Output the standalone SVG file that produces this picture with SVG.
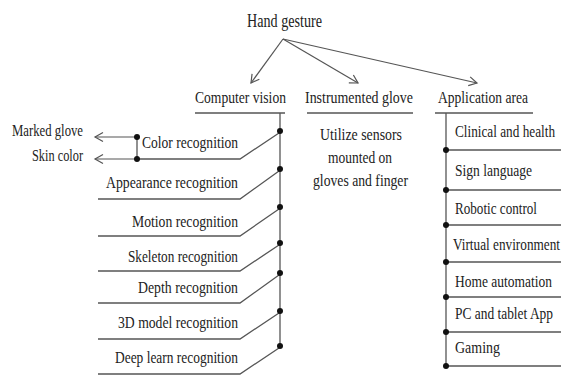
<svg xmlns="http://www.w3.org/2000/svg" width="563" height="378" viewBox="0 0 563 378">
<style>
text{font-family:"Liberation Serif","DejaVu Serif",serif;font-size:17px;fill:#222}
.ln{stroke:#555;stroke-width:1.3;fill:none}
.arr{stroke:#555;stroke-width:1.2;fill:none;marker-end:url(#ah)}
.dot{fill:#111}
</style>
<defs>
<marker id="ah" viewBox="-10 -6 12 12" refX="0" refY="0" markerWidth="12" markerHeight="12" markerUnits="userSpaceOnUse" orient="auto">
<path d="M-8,-4.5 L0,0 L-8,4.5" fill="none" stroke="#555" stroke-width="1.2"/>
</marker>
</defs>
<rect width="563" height="378" fill="#fff"/>

<g id="connectors">
<line class="arr" x1="283" y1="39" x2="251" y2="83"/>
<line class="arr" x1="283" y1="39" x2="358" y2="83"/>
<line class="arr" x1="283" y1="39" x2="477" y2="83"/>
<line class="arr" x1="137" y1="137" x2="95" y2="137"/>
<line class="arr" x1="137" y1="159" x2="95" y2="159"/>
</g>

<g id="hand-gesture"><text x="247" y="27" textLength="75" lengthAdjust="spacingAndGlyphs" style="font-size:18px">Hand gesture</text></g>

<g id="computer-vision">
<text x="195" y="103" textLength="91" lengthAdjust="spacingAndGlyphs">Computer vision</text>
<line class="ln" x1="195" y1="113" x2="285" y2="113"/>
<line class="ln" x1="280" y1="113" x2="280" y2="346"/>
</g>

<g id="color-recognition">
<text x="142" y="148" textLength="96" lengthAdjust="spacingAndGlyphs">Color recognition</text>
<polyline class="ln" points="137,159 240,159 279,133"/>
<line class="ln" x1="137" y1="137" x2="137" y2="159"/>
<circle class="dot" cx="137" cy="137" r="3"/>
<circle class="dot" cx="137" cy="159" r="3"/>
<circle class="dot" cx="280" cy="131" r="3"/>
</g>
<g id="marked-glove"><text x="12" y="136" textLength="71" lengthAdjust="spacingAndGlyphs">Marked glove</text></g>
<g id="skin-color"><text x="32" y="161" textLength="51" lengthAdjust="spacingAndGlyphs">Skin color</text></g>

<g id="appearance-recognition">
<text x="106" y="188" textLength="132" lengthAdjust="spacingAndGlyphs">Appearance recognition</text>
<polyline class="ln" points="98,199 240,199 279,171"/>
<circle class="dot" cx="280" cy="169" r="3"/>
</g>
<g id="motion-recognition">
<text x="132" y="227" textLength="106" lengthAdjust="spacingAndGlyphs">Motion recognition</text>
<polyline class="ln" points="98,236 240,236 279,209"/>
<circle class="dot" cx="280" cy="207" r="3"/>
</g>
<g id="skeleton-recognition">
<text x="128" y="262" textLength="110" lengthAdjust="spacingAndGlyphs">Skeleton recognition</text>
<polyline class="ln" points="98,271 240,271 279,245"/>
<circle class="dot" cx="280" cy="243" r="3"/>
</g>
<g id="depth-recognition">
<text x="138" y="293" textLength="100" lengthAdjust="spacingAndGlyphs">Depth recognition</text>
<polyline class="ln" points="98,303 240,303 279,275"/>
<circle class="dot" cx="280" cy="273" r="3"/>
</g>
<g id="3d-model-recognition">
<text x="118" y="328" textLength="120" lengthAdjust="spacingAndGlyphs">3D model recognition</text>
<polyline class="ln" points="98,339 240,339 279,313"/>
<circle class="dot" cx="280" cy="311" r="3"/>
</g>
<g id="deep-learn-recognition">
<text x="115" y="363" textLength="123" lengthAdjust="spacingAndGlyphs">Deep learn recognition</text>
<polyline class="ln" points="98,374 240,374 279,348"/>
<circle class="dot" cx="280" cy="346" r="3"/>
</g>

<g id="instrumented-glove">
<text x="305" y="103" textLength="108" lengthAdjust="spacingAndGlyphs">Instrumented glove</text>
<line class="ln" x1="307" y1="113" x2="413" y2="113"/>
<text x="320" y="140" textLength="82" lengthAdjust="spacingAndGlyphs">Utilize sensors</text>
<text x="328" y="163" textLength="64" lengthAdjust="spacingAndGlyphs">mounted on</text>
<text x="313" y="186" textLength="95" lengthAdjust="spacingAndGlyphs">gloves and finger</text>
</g>

<g id="application-area">
<text x="438" y="103" textLength="90" lengthAdjust="spacingAndGlyphs">Application area</text>
<line class="ln" x1="435" y1="113" x2="533" y2="113"/>
<line class="ln" x1="446" y1="113" x2="446" y2="366"/>
</g>
<g id="clinical-and-health">
<text x="455" y="137" textLength="100" lengthAdjust="spacingAndGlyphs">Clinical and health</text>
<line class="ln" x1="446" y1="150" x2="561" y2="150"/><circle class="dot" cx="446" cy="150" r="3"/>
</g>
<g id="sign-language">
<text x="455" y="176" textLength="77" lengthAdjust="spacingAndGlyphs">Sign language</text>
<line class="ln" x1="446" y1="190" x2="561" y2="190"/><circle class="dot" cx="446" cy="190" r="3"/>
</g>
<g id="robotic-control">
<text x="455" y="214" textLength="82" lengthAdjust="spacingAndGlyphs">Robotic control</text>
<line class="ln" x1="446" y1="225" x2="561" y2="225"/><circle class="dot" cx="446" cy="225" r="3"/>
</g>
<g id="virtual-environment">
<text x="453" y="250" textLength="107" lengthAdjust="spacingAndGlyphs">Virtual environment</text>
<line class="ln" x1="446" y1="262" x2="561" y2="262"/><circle class="dot" cx="446" cy="262" r="3"/>
</g>
<g id="home-automation">
<text x="455" y="287" textLength="97" lengthAdjust="spacingAndGlyphs">Home automation</text>
<line class="ln" x1="446" y1="297" x2="561" y2="297"/><circle class="dot" cx="446" cy="297" r="3"/>
</g>
<g id="pc-and-tablet-app">
<text x="455" y="319" textLength="98" lengthAdjust="spacingAndGlyphs">PC and tablet App</text>
<line class="ln" x1="446" y1="332" x2="561" y2="332"/><circle class="dot" cx="446" cy="332" r="3"/>
</g>
<g id="gaming">
<text x="455" y="353" textLength="45" lengthAdjust="spacingAndGlyphs">Gaming</text>
<line class="ln" x1="446" y1="366" x2="561" y2="366"/><circle class="dot" cx="446" cy="366" r="3"/>
</g>
</svg>
